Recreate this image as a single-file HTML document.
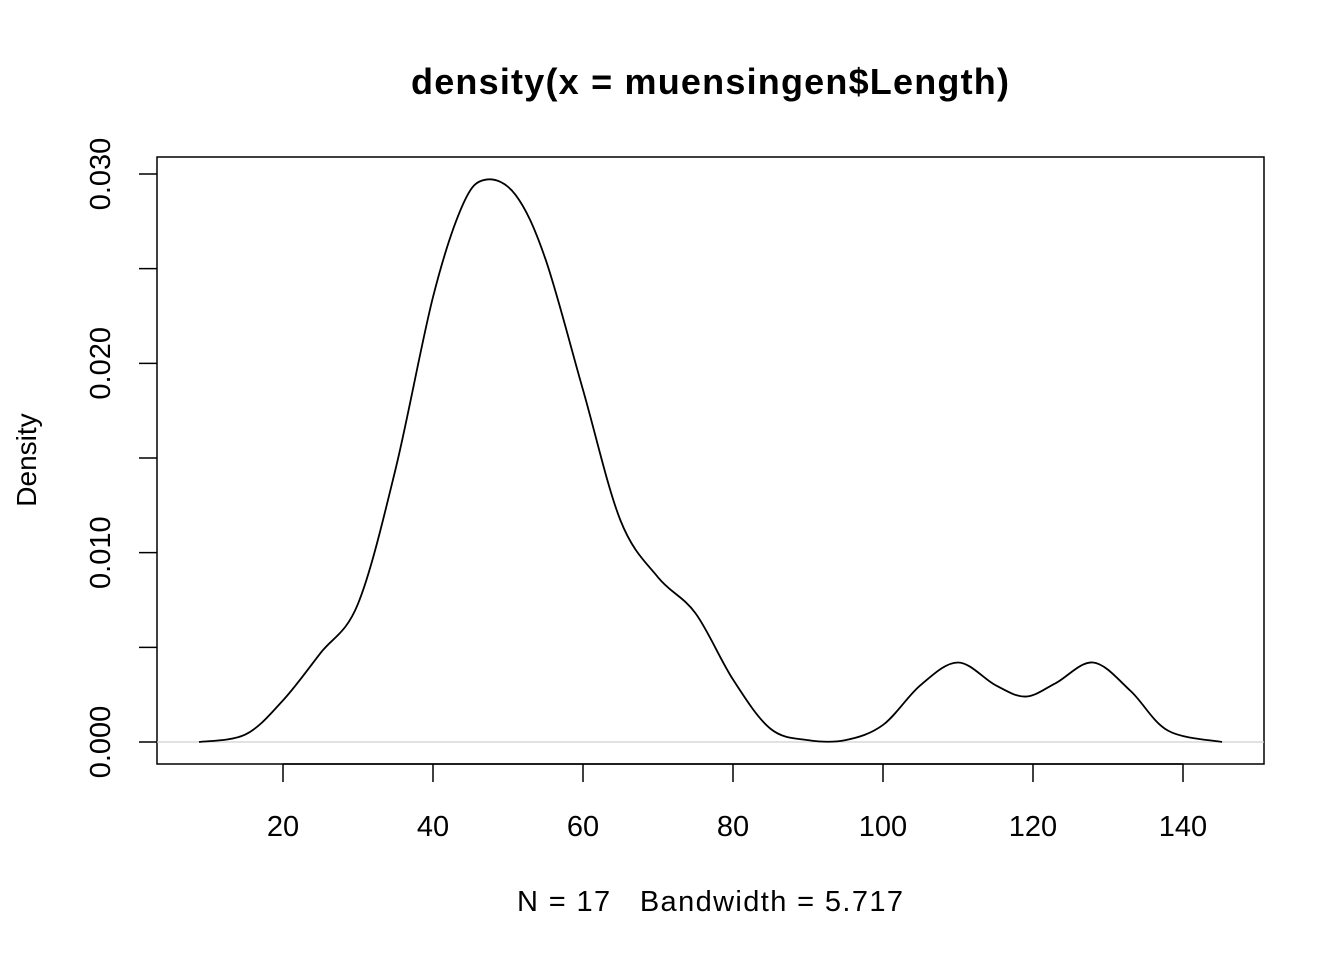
<!DOCTYPE html>
<html><head><meta charset="utf-8"><style>
body{margin:0;background:#fff}
text{font-family:"Liberation Sans",Arial,sans-serif;white-space:pre}
</style></head><body>
<svg width="1344" height="960" xmlns="http://www.w3.org/2000/svg">
<text x="710" y="94" text-anchor="middle" font-size="36" font-weight="bold" textLength="598">density(x = muensingen$Length)</text>
<rect x="157" y="157" width="1107" height="607" fill="none" stroke="#000" stroke-width="1.5"/>
<g id="xaxis"></g>
<g id="yaxis"></g>
<line id="zero" stroke="#d0d0d0" stroke-width="1.2"/>
<path id="curve" fill="none" stroke="#000" stroke-width="1.8"/>
<text x="710" y="911" text-anchor="middle" font-size="29" textLength="386" xml:space="preserve">N = 17   Bandwidth = 5.717</text>
<text transform="translate(36,460) rotate(-90)" text-anchor="middle" font-size="28">Density</text>
</svg>
<script>
const xs=[8.8,15,20,25,30,35,40,44,47,51,55,60,65,70,75,80,85,90,95,100,105,110,115,119,123,128,133,138,145.2];
const ys=[0,0.0004,0.0022,0.0047,0.0073,0.0144,0.0235,0.0284,0.0297,0.0289,0.0255,0.0186,0.0117,0.0087,0.0068,0.0033,0.0007,0.0001,0.0001,0.0009,0.0030,0.0042,0.0030,0.0024,0.0031,0.0042,0.0027,0.0006,0];
const xTicks=[20,40,60,80,100,120,140];
const yTicks=[0,0.005,0.01,0.015,0.02,0.025,0.03];
const yLabels=["0.000","","0.010","","0.020","","0.030"];
const X=v=>133+v*7.5, Y=v=>742-v*568/0.03;
const NS="http://www.w3.org/2000/svg";
function mk(t,a,p){const e=document.createElementNS(NS,t);for(const k in a)e.setAttribute(k,a[k]);p.appendChild(e);return e;}
const xa=document.getElementById('xaxis'), ya=document.getElementById('yaxis');
mk('line',{x1:X(20),x2:X(140),y1:764,y2:764,stroke:'#000','stroke-width':1.5},xa);
xTicks.forEach(t=>{const l=mk('line',{x1:X(t),x2:X(t),y1:764,y2:782,stroke:'#000','stroke-width':1.5},xa);


const tx=mk('text',{x:X(t),y:836,'text-anchor':'middle','font-size':29},xa);tx.textContent=t;

});
yTicks.forEach((t,i)=>{const l=mk('line',{x1:139,x2:157,y1:Y(t),y2:Y(t),stroke:'#000','stroke-width':1.5},ya);


if(yLabels[i]){const tx=mk('text',{transform:`translate(110,${Y(t)}) rotate(-90)`,'text-anchor':'middle','font-size':29},ya);tx.textContent=yLabels[i];

}});
const z=document.getElementById('zero');z.setAttribute('x1',157);z.setAttribute('x2',1264);z.setAttribute('y1',Y(0));z.setAttribute('y2',Y(0));
const P=xs.map((x,i)=>[X(x),Y(ys[i])]);
let d=`M${P[0][0]},${P[0][1]}`;
for(let i=0;i<P.length-1;i++){const p0=P[i-1]||P[i],p1=P[i],p2=P[i+1],p3=P[i+2]||P[i+1];
d+=`C${p1[0]+(p2[0]-p0[0])/6},${p1[1]+(p2[1]-p0[1])/6} ${p2[0]-(p3[0]-p1[0])/6},${p2[1]-(p3[1]-p1[1])/6} ${p2[0]},${p2[1]}`;}
document.getElementById('curve').setAttribute('d',d);
</script>
</body></html>
